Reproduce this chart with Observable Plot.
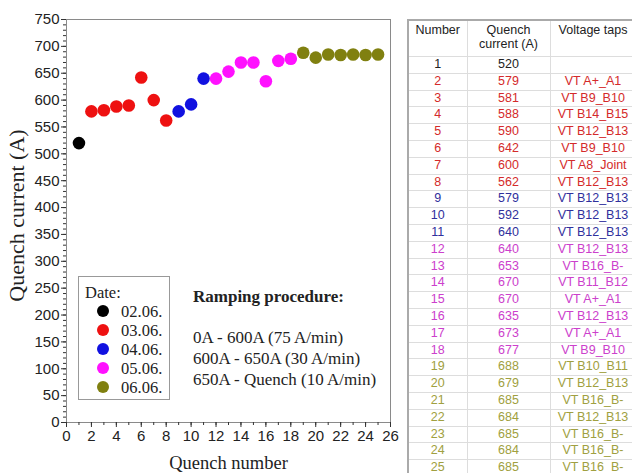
<!DOCTYPE html>
<html><head><meta charset="utf-8">
<script src="https://cdn.jsdelivr.net/npm/d3@7"></script>
<script src="https://cdn.jsdelivr.net/npm/@observablehq/plot@0.6"></script>
<style>
body{margin:0;background:#fff;}
#wrap{position:relative;width:632px;height:473px;overflow:hidden;background:#fff;}
#chart{position:absolute;left:0;top:0;}
#legend{position:absolute;left:78px;top:276px;width:92px;height:124px;border:1px solid #999;box-sizing:border-box;font-family:"Liberation Serif","Times New Roman",serif;font-size:16.5px;color:#222;background:#fff;}
#legend .title{position:absolute;left:6px;top:6px;}
#legend .row{position:absolute;left:0;height:19px;line-height:19px;}
#legend .dot{position:absolute;left:18px;top:3px;width:12px;height:12px;border-radius:50%;}
#legend .lab{position:absolute;left:42px;top:0;white-space:nowrap;}
#ramp{position:absolute;left:193px;top:286px;font-family:"Liberation Serif","Times New Roman",serif;font-size:17px;color:#222;line-height:21px;white-space:nowrap;}
#ramp .head{font-weight:bold;margin-bottom:20px;}
#tbl{position:absolute;left:407px;top:19px;width:228px;border-collapse:collapse;font-family:"Liberation Sans",Arial,sans-serif;font-size:12.5px;table-layout:fixed;}
#tbl td,#tbl th{border:1px solid #ddd;padding:0;text-align:center;white-space:nowrap;overflow:hidden;}
#tbl th{font-weight:normal;color:#222;height:33px;vertical-align:top;line-height:14px;padding-top:2px;}
#tbl td{height:15.8px;line-height:15.8px;}
#tbl tr > :first-child{border-left:2px solid #aaa;}
#tbl tr:first-child > *{border-top:2px solid #aaa;}
</style>
</head><body>
<div id="wrap">
  <div id="chart"></div>
  <div id="legend"></div>
  <div id="ramp"></div>
  <table id="tbl"></table>
</div>
<script>
const dates = ["02.06.", "03.06.", "04.06.", "05.06.", "06.06."];
const dateColors = ["#000000", "#ee1111", "#1111e0", "#ff11ff", "#808010"];
const tableColors = ["#222222", "#d42a2a", "#30309c", "#cc40cc", "#a0a040"];
const quenchNumber = [1, 2, 3, 4, 5, 6, 7, 8, 9, 10, 11, 12, 13, 14, 15, 16, 17, 18, 19, 20, 21, 22, 23, 24, 25];
const quenchCurrent = [520, 579, 581, 588, 590, 642, 600, 562, 579, 592, 640, 640, 653, 670, 670, 635, 673, 677, 688, 679, 685, 684, 685, 684, 685];
const quenchDate = ["02.06.",
  "03.06.", "03.06.", "03.06.", "03.06.", "03.06.", "03.06.", "03.06.",
  "04.06.", "04.06.", "04.06.",
  "05.06.", "05.06.", "05.06.", "05.06.", "05.06.", "05.06.", "05.06.",
  "06.06.", "06.06.", "06.06.", "06.06.", "06.06.", "06.06.", "06.06."];
const voltageTaps = ["", "VT A+_A1", "VT B9_B10", "VT B14_B15", "VT B12_B13", "VT B9_B10", "VT A8_Joint", "VT B12_B13",
  "VT B12_B13", "VT B12_B13", "VT B12_B13",
  "VT B12_B13", "VT B16_B-", "VT B11_B12", "VT A+_A1", "VT B12_B13", "VT A+_A1", "VT B9_B10",
  "VT B10_B11", "VT B12_B13", "VT B16_B-", "VT B12_B13", "VT B16_B-", "VT B16_B-", "VT B16_B-"];
const tableHeaders = ["Number", "Quench<br>current (A)", "Voltage taps"];
const xTicks = [0, 2, 4, 6, 8, 10, 12, 14, 16, 18, 20, 22, 24, 26];
const yTicks = [0, 50, 100, 150, 200, 250, 300, 350, 400, 450, 500, 550, 600, 650, 700, 750];
const xTitle = "Quench number";
const yTitle = "Quench current (A)";
const legendTitle = "Date:";
const rampTitle = "Ramping procedure:";
const rampLines = ["0A - 600A (75 A/min)", "600A - 650A (30 A/min)", "650A - Quench (10 A/min)"];

const data = quenchNumber.map((n, i) => ({n, current: quenchCurrent[i], date: quenchDate[i]}));
const serif = "Liberation Serif, Times New Roman, serif";

const chart = Plot.plot({
  width: 400, height: 473,
  marginLeft: 66, marginRight: 10, marginTop: 19, marginBottom: 51,
  x: {domain: [0, 26]},
  y: {domain: [0, 750]},
  color: {domain: dates, range: dateColors},
  style: {fontFamily: "Liberation Sans, Arial, sans-serif", fontSize: "15px", color: "#333", background: "white"},
  marks: [
    Plot.frame({stroke: "#8a8a8a"}),
    Plot.axisX({ticks: d3.range(0, 27, 1), tickSize: 3, text: null, label: null}),
    Plot.axisX({ticks: xTicks, tickSize: 5, tickPadding: 3, tickFormat: d => d, label: null, fill: "#222"}),
    Plot.axisY({ticks: d3.range(0, 751, 10), tickSize: 3, text: null, label: null}),
    Plot.axisY({ticks: yTicks, tickSize: 5, tickPadding: 2, tickFormat: d => d, label: null, fill: "#222"}),
    Plot.dot(data, {x: "n", y: "current", fill: "date", r: 6.3}),
    Plot.text([xTitle], {frameAnchor: "bottom", textAnchor: "middle", dy: 46, fontFamily: serif, fontSize: 18.5, fill: "#222"}),
    Plot.text([yTitle], {frameAnchor: "left", textAnchor: "middle", lineAnchor: "middle", dx: -50, dy: -5.5, rotate: -90, fontFamily: serif, fontSize: 22, fill: "#222"})
  ]
});
document.getElementById("chart").appendChild(chart);

// legend
const leg = document.getElementById("legend");
leg.innerHTML = `<div class="title">${legendTitle}</div>` + dates.map((d, i) =>
  `<div class="row" style="top:${25 + i * 19}px;width:90px"><span class="dot" style="background:${dateColors[i]}"></span><span class="lab">${d}</span></div>`).join("");

// ramping text
document.getElementById("ramp").innerHTML = `<div class="head">${rampTitle}</div>` + rampLines.map(l => `<div>${l}</div>`).join("");

// table
const tbl = document.getElementById("tbl");
const widths = [59, 83, 86];
let html = "<colgroup>" + widths.map(w => `<col style="width:${w}px">`).join("") + "</colgroup>";
html += "<tr>" + tableHeaders.map(h => `<th>${h}</th>`).join("") + "</tr>";
quenchNumber.forEach((n, i) => {
  const c = tableColors[dates.indexOf(quenchDate[i])];
  html += `<tr style="color:${c}"><td>${n}</td><td>${quenchCurrent[i]}</td><td>${voltageTaps[i]}</td></tr>`;
});
tbl.innerHTML = html;
</script>
</body></html>
